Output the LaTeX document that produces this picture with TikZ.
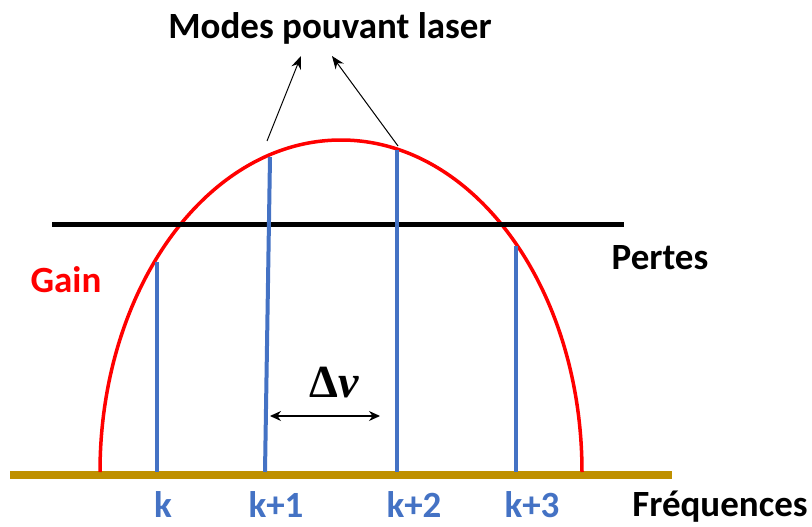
\documentclass[tikz,border=0pt]{standalone}
\usepackage{fontspec}
\setmainfont{Carlito}
\newfontfamily\grkfont{Liberation Serif}
\usetikzlibrary{arrows.meta}
\definecolor{gold}{HTML}{BF9000}
\definecolor{mblue}{HTML}{4472C4}
\begin{document}
\begin{tikzpicture}[x=1pt,y=-1pt,
  lbl/.style={font={\bfseries\fontsize{37}{40}\selectfont}, inner sep=0pt},
  grklbl/.style={font={\grkfont\bfseries\fontsize{46}{50}\selectfont}, inner sep=0pt},
  mode/.style={mblue, line width=4pt},
  ptr/.style={-{Stealth[length=13pt,width=10pt]}, line width=1pt},
  dptr/.style={{Stealth[length=11pt,width=10pt]}-{Stealth[length=11pt,width=10pt]}, line width=1.2pt}]
\useasboundingbox (0,0) rectangle (812,527);
% axis
\draw[gold, line width=8pt] (10,475) -- (672,475);
% gain curve (half ellipse)
\draw[red, line width=3.5pt] (100,472) arc[start angle=180, end angle=360, x radius=241, y radius=332];
% losses
\draw[line width=5pt] (52,224) -- (624,224);
% modes
\coordinate (k0t) at (157,262); \coordinate (k0b) at (157,472);
\coordinate (k1t) at (270,157); \coordinate (k1b) at (265,472);
\coordinate (k2t) at (397,150); \coordinate (k2b) at (397,472);
\coordinate (k3t) at (516,246); \coordinate (k3b) at (516,472);
\draw[mode] (k0t) -- (k0b);
\draw[mode] (k1t) -- (k1b);
\draw[mode] (k2t) -- (k2b);
\draw[mode] (k3t) -- (k3b);
% labels
\node[lbl] (title) at (330,28) {Modes pouvant laser};
\node[lbl, red] (gain) at (66,280) {Gain};
\node[lbl] (pertes) at (660,258) {Pertes};
\node[lbl] (freq) at (720,507) {Fréquences};
\node[lbl, mblue] (lk0) at (163,505) {k};
\node[lbl, mblue] (lk1) at (276,505) {k+1};
\node[lbl, mblue] (lk2) at (414,505) {k+2};
\node[lbl, mblue] (lk3) at (532,505) {k+3};
\node[grklbl] (deltanu) at (334,383) {Δ\textit{ν}};
% arrows
\coordinate (a1s) at (267,141); \coordinate (a1e) at (301,56);
\coordinate (a2s) at (398,146); \coordinate (a2e) at (332,56);
\draw[ptr] (a1s) -- (a1e);
\draw[ptr] (a2s) -- (a2e);
\coordinate (d1) at (270,416); \coordinate (d2) at (380,416);
\draw[dptr] (d1) -- (d2);
\end{tikzpicture}
\end{document}
